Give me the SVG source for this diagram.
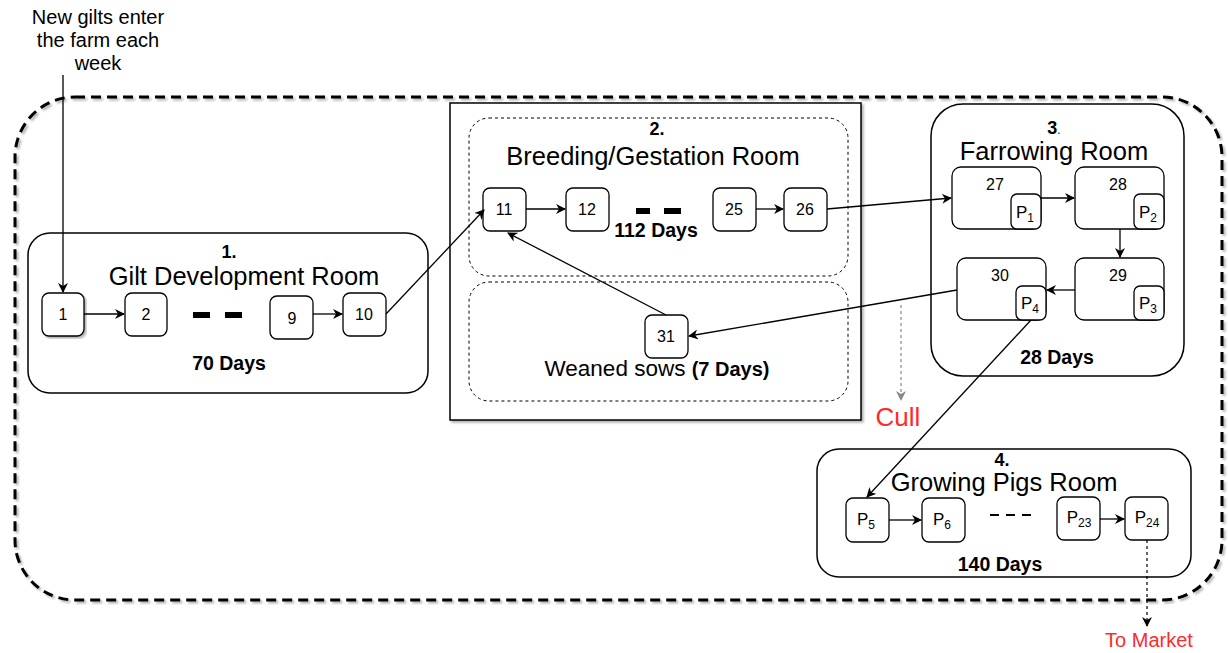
<svg xmlns="http://www.w3.org/2000/svg" width="1228" height="653" viewBox="0 0 1228 653">
<defs>
<marker id="ah" markerWidth="10" markerHeight="10" refX="9" refY="5" orient="auto" markerUnits="userSpaceOnUse"><path d="M0,0 L10,5 L0,10 L3,5 Z" fill="#000"/></marker>
<marker id="ahg" markerWidth="10" markerHeight="10" refX="9" refY="5" orient="auto" markerUnits="userSpaceOnUse"><path d="M0,0 L10,5 L0,10 L3,5 Z" fill="#888"/></marker>
<filter id="sh" x="-5%" y="-5%" width="110%" height="110%"><feDropShadow dx="2" dy="2" stdDeviation="1" flood-color="#000" flood-opacity="0.3"/></filter>
</defs>
<style>
text{font-family:"Liberation Sans",Arial,sans-serif;fill:#000;text-anchor:middle}
.n{fill:#fff;stroke:#000;stroke-width:1.3}
.room{fill:#fff;stroke:#000;stroke-width:1.5}
.dsh{fill:none;stroke:#000;stroke-width:1;stroke-dasharray:3,3}
.t{font-size:25.5px}
.b{font-size:19.5px;font-weight:bold}
.h{font-size:18px;font-weight:bold}
.l{font-size:16px}
.p{font-size:17px}
.s{font-size:12px}
.c{fill:none;stroke:#000;stroke-width:1.3;marker-end:url(#ah)}
.red{fill:#ff2a2a}
</style>
<rect width="1228" height="653" fill="#fff"/>
<g id="farm">
<rect x="15" y="97" width="1207" height="503" rx="60" fill="none" stroke="#000" stroke-width="3" stroke-dasharray="10,6" filter="url(#sh)"/>
</g>
<g id="gilt-room">
<rect class="room" x="28" y="233" width="400" height="160" rx="22"/>
<text class="h" x="229" y="258">1.</text>
<text class="t" x="244" y="285">Gilt Development Room</text>
<text class="b" x="229" y="370">70 Days</text>
<rect x="193" y="312" width="17" height="6" fill="#000"/>
<rect x="225" y="312" width="17" height="6" fill="#000"/>
</g>
<g id="n1"><rect class="n" x="42" y="293" width="42" height="43" rx="7" filter="url(#sh)"/><text class="l" x="63" y="320">1</text></g>
<g id="n2"><rect class="n" x="125" y="293" width="42" height="43" rx="7"/><text class="l" x="146" y="320">2</text></g>
<g id="n9"><rect class="n" x="270" y="296" width="43" height="43" rx="7"/><text class="l" x="292" y="324">9</text></g>
<g id="n10"><rect class="n" x="343" y="293" width="43" height="43" rx="7"/><text class="l" x="364" y="320">10</text></g>
<g id="breeding-room">
<rect x="450" y="103" width="411" height="317" fill="#fff" stroke="#000" stroke-width="1.5" filter="url(#sh)"/>
<rect class="dsh" x="469" y="118" width="379" height="158" rx="20"/>
<rect class="dsh" x="469" y="282" width="379" height="119" rx="20"/>
<text class="h" x="657" y="135">2.</text>
<text class="t" x="653" y="165">Breeding/Gestation Room</text>
<text class="b" x="656" y="237">112 Days</text>
<rect x="636" y="208" width="14" height="6" fill="#000"/>
<rect x="664" y="208" width="17" height="6" fill="#000"/>
<text x="657" y="376" style="font-size:22.5px">Weaned sows <tspan font-weight="bold" style="font-size:20px">(7 Days)</tspan></text>
</g>
<g id="n11"><rect class="n" x="483" y="188" width="43" height="43" rx="7"/><text class="l" x="504" y="215">11</text></g>
<g id="n12"><rect class="n" x="566" y="188" width="43" height="43" rx="7"/><text class="l" x="587" y="215">12</text></g>
<g id="n25"><rect class="n" x="713" y="188" width="43" height="43" rx="7"/><text class="l" x="734" y="215">25</text></g>
<g id="n26"><rect class="n" x="784" y="188" width="43" height="43" rx="7"/><text class="l" x="805" y="215">26</text></g>
<g id="n31"><rect class="n" x="645" y="315" width="43" height="43" rx="7"/><text class="l" x="666" y="342">31</text></g>
<g id="farrowing-room">
<rect class="room" x="931" y="104" width="253" height="272" rx="32"/>
<text class="h" x="1054" y="134">3<tspan font-weight="normal" style="font-size:12px">.</tspan></text>
<text class="t" x="1054" y="160">Farrowing Room</text>
<text class="b" x="1057" y="364">28 Days</text>
</g>
<g id="n27"><rect class="n" x="952" y="167" width="89" height="62" rx="9"/><text class="l" x="995" y="190">27</text><rect class="n" x="1011" y="194" width="30" height="35" rx="6"/><text class="p" x="1025" y="218">P<tspan class="s" dy="4">1</tspan></text></g>
<g id="n28"><rect class="n" x="1075" y="167" width="89" height="62" rx="9"/><text class="l" x="1118" y="190">28</text><rect class="n" x="1134" y="194" width="30" height="35" rx="6"/><text class="p" x="1148" y="218">P<tspan class="s" dy="4">2</tspan></text></g>
<g id="n29"><rect class="n" x="1075" y="258" width="89" height="62" rx="9"/><text class="l" x="1118" y="281">29</text><rect class="n" x="1134" y="286" width="30" height="34" rx="6"/><text class="p" x="1148" y="309">P<tspan class="s" dy="4">3</tspan></text></g>
<g id="n30"><rect class="n" x="957" y="258" width="89" height="62" rx="9"/><text class="l" x="1000" y="281">30</text><rect class="n" x="1016" y="286" width="30" height="34" rx="6"/><text class="p" x="1030" y="309">P<tspan class="s" dy="4">4</tspan></text></g>
<g id="growing-room">
<rect class="room" x="817" y="449" width="374" height="128" rx="22"/>
<text class="h" x="1002" y="466">4.</text>
<text class="t" x="1004" y="491">Growing Pigs Room</text>
<text class="b" x="1000" y="571">140 Days</text>
<line x1="990" y1="515" x2="1035" y2="515" stroke="#000" stroke-width="2" stroke-dasharray="9,7"/>
</g>
<g id="p5"><rect class="n" x="846" y="498" width="43" height="44" rx="7"/><text class="p" x="866" y="525">P<tspan class="s" dy="4">5</tspan></text></g>
<g id="p6"><rect class="n" x="922" y="498" width="43" height="44" rx="7"/><text class="p" x="942" y="525">P<tspan class="s" dy="4">6</tspan></text></g>
<g id="p23"><rect class="n" x="1057" y="497" width="43" height="43" rx="7"/><text class="p" x="1079" y="523">P<tspan class="s" dy="4">23</tspan></text></g>
<g id="p24"><rect class="n" x="1125" y="497" width="43" height="43" rx="7"/><text class="p" x="1147" y="523">P<tspan class="s" dy="4">24</tspan></text></g>
<g id="labels">
<text x="98" y="24" style="font-size:20px">New gilts enter</text>
<text x="98" y="47" style="font-size:20px">the farm each</text>
<text x="98" y="70" style="font-size:20px">week</text>
<text class="red" x="898" y="426" style="font-size:26px">Cull</text>
<text class="red" x="1149" y="647" style="font-size:20px">To Market</text>
</g>
<g id="connectors">
<line class="c" x1="63" y1="75" x2="63" y2="292"/>
<line class="c" x1="84" y1="314" x2="124" y2="314"/>
<line class="c" x1="313" y1="314" x2="342" y2="314"/>
<line class="c" x1="386" y1="314" x2="484" y2="210"/>
<line class="c" x1="526" y1="209" x2="565" y2="209"/>
<line class="c" x1="756" y1="209" x2="783" y2="209"/>
<line class="c" x1="827" y1="209" x2="951" y2="198"/>
<line class="c" x1="1041" y1="198" x2="1074" y2="198"/>
<line class="c" x1="1120" y1="229" x2="1120" y2="257"/>
<line class="c" x1="1075" y1="290" x2="1047" y2="290"/>
<line class="c" x1="957" y1="290" x2="689" y2="336"/>
<line class="c" x1="666" y1="315" x2="508" y2="233"/>
<line class="c" x1="1031" y1="320" x2="867" y2="497"/>
<line class="c" x1="889" y1="520" x2="921" y2="520"/>
<line class="c" x1="1100" y1="519" x2="1124" y2="519"/>
<line x1="901" y1="305" x2="901" y2="400" stroke="#888" stroke-width="1.2" stroke-dasharray="3,3" marker-end="url(#ahg)"/>
<line x1="1147" y1="540" x2="1147" y2="626" stroke="#000" stroke-width="1.2" stroke-dasharray="3,3" marker-end="url(#ah)"/>
</g>
</svg>
